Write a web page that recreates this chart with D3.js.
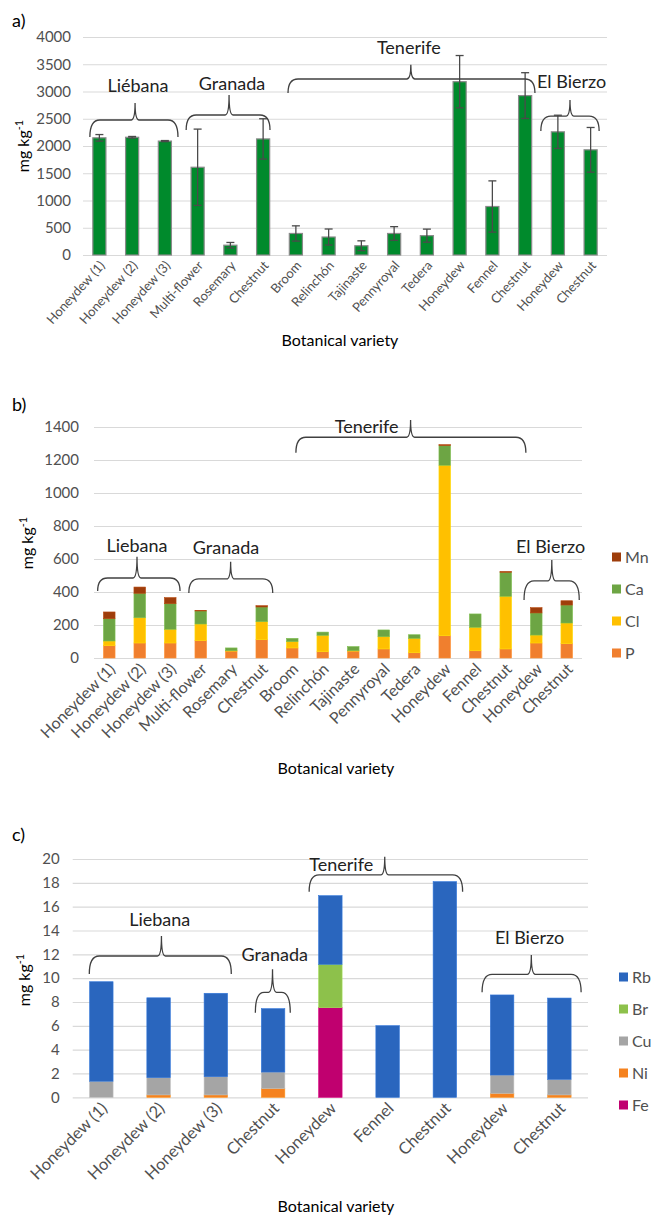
<!DOCTYPE html>
<html>
<head>
<meta charset="utf-8">
<script src="https://cdn.jsdelivr.net/npm/d3@7"></script>
<style>
  body { margin: 0; background: #fff; }
  svg { display: block; }
  text { font-family: Lato, "Liberation Sans", Arial, sans-serif; }
</style>
</head>
<body>
<svg id="chart" width="651" height="1217"></svg>
<script>
// ---------- data ----------
// a) total mineral content with standard deviation
const varietiesA = ["Honeydew (1)", "Honeydew (2)", "Honeydew (3)", "Multi-flower", "Rosemary", "Chestnut",
  "Broom", "Relinchón", "Tajinaste", "Pennyroyal", "Tedera", "Honeydew", "Fennel", "Chestnut", "Honeydew", "Chestnut"];
const totalA = [2150, 2160, 2090, 1610, 180, 2130, 395, 330, 170, 395, 355, 3180, 890, 2925, 2260, 1930];
const errorA = [60, 15, 10, 700, 50, 370, 140, 147, 90, 125, 120, 480, 470, 420, 305, 410];
const ticksA = [0, 500, 1000, 1500, 2000, 2500, 3000, 3500, 4000];

// b) major elements, stacked
const varietiesB = varietiesA;
const elementsB = ["P", "Cl", "Ca", "Mn"];
const pB  = [75, 91, 91, 105, 42, 111, 61, 38, 42, 55, 32, 135, 44, 55, 91, 87];
const clB = [28, 153, 83, 101, 2, 109, 38, 99, 2, 74, 87, 1033, 142, 319, 48, 125];
const caB = [135, 148, 155, 79, 17, 89, 20, 20, 25, 41, 22, 119, 81, 145, 134, 109];
const mnB = [41, 38, 37, 2, 0, 8, 0, 0, 0, 0, 0, 6, 0, 6, 32, 26];
const ticksB = [0, 200, 400, 600, 800, 1000, 1200, 1400];

// c) trace elements, stacked
const varietiesC = ["Honeydew (1)", "Honeydew (2)", "Honeydew (3)", "Chestnut", "Honeydew", "Fennel",
  "Chestnut", "Honeydew", "Chestnut"];
const elementsC = ["Fe", "Ni", "Cu", "Br", "Rb"];
const feC = [0, 0, 0, 0, 7.52, 0, 0, 0, 0];
const niC = [0, 0.2, 0.2, 0.73, 0, 0, 0, 0.33, 0.2];
const cuC = [1.35, 1.45, 1.53, 1.39, 0, 0, 0, 1.54, 1.31];
const brC = [0, 0, 0, 0, 3.64, 0, 0, 0, 0];
const rbC = [8.35, 6.7, 7.0, 5.32, 5.76, 6.01, 18.1, 6.72, 6.82];
const ticksC = [0, 2, 4, 6, 8, 10, 12, 14, 16, 18, 20];

// ---------- styling ----------
const colorsB = { P: "#F07F2E", Cl: "#FFC000", Ca: "#6DA544", Mn: "#9E3D0B" };
const colorsC = { Fe: "#C0006F", Ni: "#F5821F", Cu: "#A5A5A5", Br: "#8DC14B", Rb: "#2A66BE" };
const gridColor = "#d9d9d9";
const tickColor = "#505050";
const inkColor = "#404040";

const svg = d3.select("#chart");

// Region brackets: x in category units (bar i centred at i), y in data units
const regionsA = [
  { name: "Liébana",   u0: -0.29, u1: 2.40,  up: 1.09,  vEnd: 2165, vH: 2477, vPeak: 2789, lu: 1.18,  lv: 3101 },
  { name: "Granada",   u0: 2.65,  u1: 5.21,  up: 3.96,  vEnd: 2294, vH: 2569, vPeak: 2936, lu: 4.05,  lv: 3138 },
  { name: "Tenerife",  u0: 5.76,  u1: 13.3,  up: 9.51,  vEnd: 2972, vH: 3229, vPeak: 3490, lu: 9.45,  lv: 3798 },
  { name: "El Bierzo", u0: 13.48, u1: 15.26, up: 14.37, vEnd: 2275, vH: 2550, vPeak: 2844, lu: 14.42, lv: 3174 }
];
const regionsB = [
  { name: "Liebana",   u0: -0.38, u1: 2.32,  up: 0.91,  vEnd: 406,  vH: 485,  vPeak: 614,  lu: 0.91,  lv: 681 },
  { name: "Granada",   u0: 2.61,  u1: 5.36,  up: 3.98,  vEnd: 394,  vH: 479,  vPeak: 584,  lu: 3.83,  lv: 667 },
  { name: "Tenerife",  u0: 6.12,  u1: 13.66, up: 9.88,  vEnd: 1244, vH: 1338, vPeak: 1442, lu: 8.44,  lv: 1402 },
  { name: "El Bierzo", u0: 13.6,  u1: 15.41, up: 14.51, vEnd: 352,  vH: 467,  vPeak: 594,  lu: 14.47, lv: 675 }
];
const regionsC = [
  { name: "Liebana",   u0: -0.21, u1: 2.27, up: 1.05, vEnd: 10.35, vH: 11.86, vPeak: 13.54, lu: 1.02, lv: 14.88 },
  { name: "Granada",   u0: 2.69,  u1: 3.30, up: 2.99, vEnd: 7.1,   vH: 8.81,  vPeak: 10.74, lu: 3.03, lv: 11.94 },
  { name: "Tenerife",  u0: 3.63,  u1: 6.31, up: 4.95, vEnd: 17.26, vH: 18.66, vPeak: 20.19, lu: 4.19, lv: 19.5 },
  { name: "El Bierzo", u0: 6.65,  u1: 8.38, up: 7.51, vEnd: 8.81,  vH: 10.32, vPeak: 11.94, lu: 7.48, lv: 13.43 }
];

// ---------- helpers ----------
function makeScales(p, n, max) {
  const x = d3.scaleBand().domain(d3.range(n)).range([p.left, p.right]).paddingInner(p.pad).paddingOuter(p.pad / 2);
  const y = d3.scaleLinear().domain([0, max]).range([p.bottom, p.top]);
  // continuous category position: u = i puts a point at the centre of bar i
  const u = v => p.left + x.step() * (v + 0.5);
  return { x, y, u };
}

function drawFrame(p, s, ticks, names) {
  const g = svg.append("g");
  // horizontal gridlines + tick labels
  const yAxis = g.append("g").attr("transform", `translate(${p.left},0)`)
    .call(d3.axisLeft(s.y).tickValues(ticks).tickFormat(d3.format("d"))
      .tickSize(-(p.right - p.left)).tickPadding(p.tickPad));
  yAxis.select(".domain").remove();
  yAxis.selectAll(".tick line").attr("stroke", gridColor).attr("stroke-width", 1.2);
  yAxis.selectAll(".tick text").attr("fill", tickColor).attr("font-size", p.tickFont);

  // category labels, rotated
  const xAxis = g.append("g").attr("transform", `translate(0,${p.bottom})`)
    .call(d3.axisBottom(s.x).tickSize(0).tickFormat(i => names[i]));
  xAxis.select(".domain").remove();
  xAxis.selectAll(".tick text")
    .attr("fill", tickColor).attr("font-size", p.catFont)
    .attr("text-anchor", "end")
    .attr("dx", 0).attr("dy", 0)
    .attr("transform", `translate(${p.catDx},${p.catDy}) rotate(${p.catAngle})`);

  // panel letter
  svg.append("text").attr("x", 12).attr("y", p.letterY).attr("font-size", 18).attr("fill", "#000").text(p.letter);

  // y title
  const yt = svg.append("text")
    .attr("transform", `translate(${p.yTitleX},${p.yTitleY}) rotate(-90)`)
    .attr("text-anchor", "middle").attr("font-size", 16).attr("fill", "#000");
  yt.append("tspan").text("mg kg");
  yt.append("tspan").attr("font-size", 11).attr("dy", -6).text("-1");

  // x title
  svg.append("text").attr("x", p.xTitleX).attr("y", p.xTitleY)
    .attr("text-anchor", "middle").attr("font-size", 16).attr("fill", "#000")
    .text("Botanical variety");
}

function drawRegions(regions, s, fontSize) {
  const g = svg.append("g");
  regions.forEach(r => {
    const x0 = s.u(r.u0), x1 = s.u(r.u1), xp = s.u(r.up);
    const yE = s.y(r.vEnd), yH = s.y(r.vH), yP = s.y(r.vPeak);
    const rc = Math.min(10, (x1 - x0) / 4);
    const rp = 4;
    const path = `M${x0},${yE} Q${x0},${yH} ${x0 + rc},${yH} L${xp - rp},${yH} Q${xp},${yH} ${xp},${yP}` +
                 ` Q${xp},${yH} ${xp + rp},${yH} L${x1 - rc},${yH} Q${x1},${yH} ${x1},${yE}`;
    g.append("path").attr("d", path).attr("fill", "none").attr("stroke", inkColor).attr("stroke-width", 1.3);
    g.append("text").attr("x", s.u(r.lu)).attr("y", s.y(r.lv)).attr("dy", "0.35em")
      .attr("text-anchor", "middle").attr("font-size", fontSize).attr("fill", "#222").text(r.name);
  });
}

function drawLegend(keys, colors, p) {
  const g = svg.append("g");
  keys.forEach((k, i) => {
    const cy = p.legendY0 + i * p.legendStep;
    g.append("rect").attr("x", p.legendX).attr("y", cy - 4.5).attr("width", 9).attr("height", 9).attr("fill", colors[k]);
    g.append("text").attr("x", p.legendX + 13).attr("y", cy).attr("dy", "0.35em")
      .attr("font-size", 16).attr("fill", tickColor).text(k);
  });
}

function drawStack(keys, cols, colors, s) {
  const rows = cols[0].map((_, i) => {
    const r = { i };
    keys.forEach((k, j) => { r[k] = cols[j][i]; });
    return r;
  });
  const series = d3.stack().keys(keys)(rows);
  const g = svg.append("g");
  series.forEach(layer => {
    g.selectAll(null).data(layer.filter(d => d[1] - d[0] > 0)).join("rect")
      .attr("x", d => s.x(d.data.i))
      .attr("width", s.x.bandwidth())
      .attr("y", d => s.y(d[1]))
      .attr("height", d => s.y(d[0]) - s.y(d[1]))
      .attr("fill", colors[layer.key])
      .attr("stroke", d3.color(colors[layer.key]).brighter(0.4))
      .attr("stroke-width", 0.6);
  });
}

// ---------- panel a ----------
{
  const p = { left: 83, right: 607, top: 37, bottom: 255, pad: 0.6, tickPad: 12, tickFont: 15,
    catFont: 13, catAngle: -48, catDx: 4, catDy: 9, letter: "a)", letterY: 27,
    yTitleX: 29, yTitleY: 146, xTitleX: 340, xTitleY: 346 };
  const s = makeScales(p, varietiesA.length, 4000);
  drawFrame(p, s, ticksA, varietiesA);
  const g = svg.append("g");
  g.selectAll("rect").data(totalA).join("rect")
    .attr("x", (d, i) => s.x(i)).attr("width", s.x.bandwidth())
    .attr("y", d => s.y(d)).attr("height", d => s.y(0) - s.y(d))
    .attr("fill", "#008A2C").attr("stroke", "#8a8a8a").attr("stroke-width", 1.2);
  const eb = svg.append("g").attr("stroke", "#4a4a4a").attr("stroke-width", 1.3);
  totalA.forEach((v, i) => {
    const cx = s.x(i) + s.x.bandwidth() / 2;
    const hi = s.y(v + errorA[i]), lo = s.y(v - errorA[i]);
    eb.append("line").attr("x1", cx).attr("x2", cx).attr("y1", hi).attr("y2", lo);
    eb.append("line").attr("x1", cx - 4).attr("x2", cx + 4).attr("y1", hi).attr("y2", hi);
    eb.append("line").attr("x1", cx - 4).attr("x2", cx + 4).attr("y1", lo).attr("y2", lo);
  });
  drawRegions(regionsA, s, 18);
}

// ---------- panel b ----------
{
  const p = { left: 94, right: 582, top: 427, bottom: 658, pad: 0.62, tickPad: 15, tickFont: 15,
    catFont: 16, catAngle: -45, catDx: 5, catDy: 10, letter: "b)", letterY: 411,
    yTitleX: 33, yTitleY: 543, xTitleX: 336, xTitleY: 774,
    legendX: 612, legendY0: 557, legendStep: 32 };
  const s = makeScales(p, varietiesB.length, 1400);
  drawFrame(p, s, ticksB, varietiesB);
  drawStack(elementsB, [pB, clB, caB, mnB], colorsB, s);
  drawRegions(regionsB, s, 18);
  drawLegend(["Mn", "Ca", "Cl", "P"], colorsB, p);
}

// ---------- panel c ----------
{
  const p = { left: 72.7, right: 588, top: 859, bottom: 1097.3, pad: 0.59, tickPad: 13, tickFont: 15,
    catFont: 16.5, catAngle: -45, catDx: 5, catDy: 10, letter: "c)", letterY: 841,
    yTitleX: 30, yTitleY: 980, xTitleX: 336, xTitleY: 1212,
    legendX: 619, legendY0: 977, legendStep: 32 };
  const s = makeScales(p, varietiesC.length, 20);
  drawFrame(p, s, ticksC, varietiesC);
  drawStack(elementsC, [feC, niC, cuC, brC, rbC], colorsC, s);
  drawRegions(regionsC, s, 18);
  drawLegend(["Rb", "Br", "Cu", "Ni", "Fe"], colorsC, p);
}
</script>
</body>
</html>
